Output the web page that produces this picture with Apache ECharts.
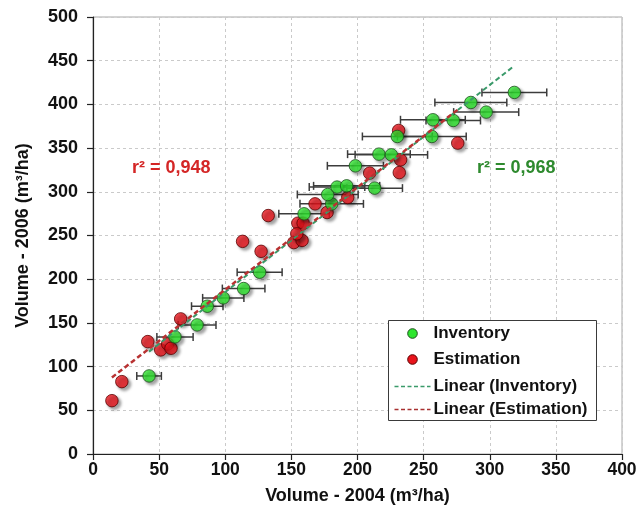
<!DOCTYPE html>
<html>
<head>
<meta charset="utf-8">
<script src="https://cdn.jsdelivr.net/npm/echarts@6/dist/echarts.min.js"></script>
<style>
  html, body { margin: 0; padding: 0; background: #ffffff; }
  #chart { width: 641px; height: 517px; }
</style>
</head>
<body>
<div id="chart"></div>
<script>
// Inventory plots: volume 2004, volume 2006 and half-width of the 2004 error bar
const inventoryX   = [42.4, 62.0, 78.7, 86.4, 98.5, 113.9, 126.0, 159.6, 180.5, 177.5, 184.5, 191.8, 198.4, 213.0, 216.2, 225.6, 230.1, 256.2, 257.0, 272.4, 285.7, 297.3, 318.6];
const inventoryY   = [89.3, 134.0, 147.7, 169.1, 178.6, 189.3, 208.0, 274.8, 286.2, 296.9, 305.4, 306.8, 329.7, 304.2, 343.1, 342.3, 363.3, 363.3, 382.4, 381.6, 402.2, 391.2, 413.7];
const inventoryErr = [9.3, 13.7, 14.3, 11.9, 15.6, 16.1, 17.0, 19.1, 24.0, 23.0, 21.0, 25.0, 21.2, 21.0, 23.7, 27.4, 26.4, 26.0, 24.5, 20.6, 27.2, 24.6, 24.5];

// Estimated plots: volume 2004, volume 2006
const estimationX = [14.3, 21.8, 41.4, 51.2, 56.5, 59.0, 66.3, 113.1, 127.1, 151.8, 158.1, 132.5, 154.9, 158.9, 154.1, 167.9, 177.0, 192.6, 231.1, 275.8, 232.6, 231.6, 209.2];
const estimationY = [61.0, 82.8, 128.6, 119.1, 125.9, 121.0, 154.6, 243.3, 231.9, 241.9, 244.4, 272.8, 264.1, 264.1, 251.9, 286.2, 276.3, 293.5, 370.2, 355.7, 336.6, 322.0, 321.4];

// Linear trend lines (start and end points)
const trendInventoryX  = [42.4, 318.6];
const trendInventoryY  = [117.1, 444.2];
const trendEstimationX = [14.3, 275.8];
const trendEstimationY = [87.6, 394.0];

// Coefficients of determination
const r2Estimation = 'r² = 0,948';
const r2Inventory  = 'r² = 0,968';

// Axis ticks
const xTicks = [0, 50, 100, 150, 200, 250, 300, 350, 400];
const yTicks = [0, 50, 100, 150, 200, 250, 300, 350, 400, 450, 500];

const legendNames = ['Inventory', 'Estimation', 'Linear (Inventory)', 'Linear (Estimation)'];

const FONT = '"Liberation Sans", Arial, sans-serif';
const GREEN = '#2ee62e';
const RED = '#e8141c';

const zip = (a, b, c) => a.map((v, i) => c ? [v, b[i], c[i]] : [v, b[i]]);

const chart = echarts.init(document.getElementById('chart'), null, { renderer: 'canvas' });

const barStyle = { stroke: '#3c3c3c', lineWidth: 1.5 };

const markerShadow = {
  shadowColor: 'rgba(0,0,0,0.45)',
  shadowBlur: 3,
  shadowOffsetX: 2.5,
  shadowOffsetY: 2.5
};

const option = {
  backgroundColor: '#ffffff',
  animation: false,
  grid: {
    left: 93, right: 19, top: 17, bottom: 63,
    show: true, borderColor: '#a8a8a8', borderWidth: 1, backgroundColor: 'transparent'
  },
  xAxis: {
    type: 'value', min: xTicks[0], max: xTicks[xTicks.length - 1], interval: 50,
    name: 'Volume - 2004 (m³/ha)', nameLocation: 'middle', nameGap: 33,
    nameTextStyle: { fontFamily: FONT, fontWeight: 'bold', fontSize: 18, color: '#111' },
    axisLine: { show: true, onZero: false, lineStyle: { color: '#222', width: 1.2 } },
    axisTick: { show: true, inside: false, length: 6, lineStyle: { color: '#222', width: 1.2 } },
    axisLabel: { fontFamily: FONT, fontWeight: 'bold', fontSize: 17.5, color: '#111', margin: 7 },
    splitLine: { show: true, lineStyle: { color: '#cacaca', type: [3, 3], width: 1 } }
  },
  yAxis: {
    type: 'value', min: yTicks[0], max: yTicks[yTicks.length - 1], interval: 50,
    name: 'Volume - 2006 (m³/ha)', nameLocation: 'middle', nameGap: 61, nameRotate: 90,
    nameTextStyle: { fontFamily: FONT, fontWeight: 'bold', fontSize: 18, color: '#111' },
    axisLine: { show: true, onZero: false, lineStyle: { color: '#222', width: 1.2 } },
    axisTick: { show: true, inside: false, length: 6, lineStyle: { color: '#222', width: 1.2 } },
    axisLabel: { fontFamily: FONT, fontWeight: 'bold', fontSize: 18, color: '#111', margin: 15 },
    splitLine: { show: true, lineStyle: { color: '#cacaca', type: [3, 3], width: 1 } }
  },
  series: [
    {
      name: 'Inventory error',
      type: 'custom',
      data: zip(inventoryX, inventoryY, inventoryErr),
      encode: { x: 0, y: 1 },
      z: 2,
      silent: true,
      renderItem: function (params, api) {
        const y = api.value(1);
        const lo = api.coord([api.value(0) - api.value(2), y]);
        const hi = api.coord([api.value(0) + api.value(2), y]);
        const h = 4;
        return {
          type: 'group',
          children: [
            { type: 'line', shape: { x1: lo[0], y1: lo[1], x2: hi[0], y2: hi[1] }, style: barStyle },
            { type: 'line', shape: { x1: lo[0], y1: lo[1] - h, x2: lo[0], y2: lo[1] + h }, style: barStyle },
            { type: 'line', shape: { x1: hi[0], y1: hi[1] - h, x2: hi[0], y2: hi[1] + h }, style: barStyle }
          ]
        };
      }
    },
    {
      name: legendNames[1],
      type: 'scatter',
      data: zip(estimationX, estimationY),
      symbol: 'circle',
      symbolSize: 12.5,
      z: 3,
      itemStyle: Object.assign({ color: RED, borderColor: '#5a0000', borderWidth: 1 }, markerShadow)
    },
    {
      name: legendNames[0],
      type: 'scatter',
      data: zip(inventoryX, inventoryY),
      symbol: 'circle',
      symbolSize: 12.5,
      z: 4,
      itemStyle: Object.assign({ color: GREEN, borderColor: '#1e4e1e', borderWidth: 1 }, markerShadow)
    },
    {
      name: legendNames[2],
      type: 'line',
      data: zip(trendInventoryX, trendInventoryY),
      showSymbol: false,
      symbol: 'none',
      z: 5,
      lineStyle: { color: '#3a9a6a', width: 2, type: [5, 3] }
    },
    {
      name: legendNames[3],
      type: 'line',
      data: zip(trendEstimationX, trendEstimationY),
      showSymbol: false,
      symbol: 'none',
      z: 6,
      lineStyle: { color: '#b83232', width: 2.5, type: [5, 3] }
    }
  ],
  graphic: [
    {
      type: 'text', left: 132, top: 159, z: 10,
      style: { text: r2Estimation, font: 'bold 18px ' + FONT, fill: '#d42626' }
    },
    {
      type: 'text', left: 477, top: 159, z: 10,
      style: { text: r2Inventory, font: 'bold 18px ' + FONT, fill: '#2e8a2e' }
    },
    {
      type: 'group', left: 388, top: 320, zlevel: 1, z: 20,
      children: [
        { type: 'rect', z: 20, shape: { x: 0, y: 0, width: 208, height: 100 },
          style: { fill: '#ffffff', stroke: '#3a3a3a', lineWidth: 1 } },
        { type: 'circle', z: 21, shape: { cx: 24, cy: 13, r: 4.8 },
          style: { fill: GREEN, stroke: '#1e4e1e', lineWidth: 1 } },
        { type: 'circle', z: 21, shape: { cx: 24, cy: 39, r: 4.8 },
          style: { fill: RED, stroke: '#5a0000', lineWidth: 1 } },
        { type: 'line', z: 21, shape: { x1: 6, y1: 66, x2: 42, y2: 66 },
          style: { stroke: '#3a9a6a', lineWidth: 1.5, lineDash: [4, 2.5] } },
        { type: 'line', z: 21, shape: { x1: 6, y1: 89, x2: 42, y2: 89 },
          style: { stroke: '#a83030', lineWidth: 1.5, lineDash: [4, 2.5] } },
        { type: 'text', z: 21, x: 45, y: 13, style: { text: legendNames[0], font: 'bold 17px ' + FONT, fill: '#111', textVerticalAlign: 'middle' } },
        { type: 'text', z: 21, x: 45, y: 39, style: { text: legendNames[1], font: 'bold 17px ' + FONT, fill: '#111', textVerticalAlign: 'middle' } },
        { type: 'text', z: 21, x: 45, y: 66, style: { text: legendNames[2], font: 'bold 17px ' + FONT, fill: '#111', textVerticalAlign: 'middle' } },
        { type: 'text', z: 21, x: 45, y: 89, style: { text: legendNames[3], font: 'bold 17px ' + FONT, fill: '#111', textVerticalAlign: 'middle' } }
      ]
    }
  ]
};

chart.setOption(option);
</script>
</body>
</html>
